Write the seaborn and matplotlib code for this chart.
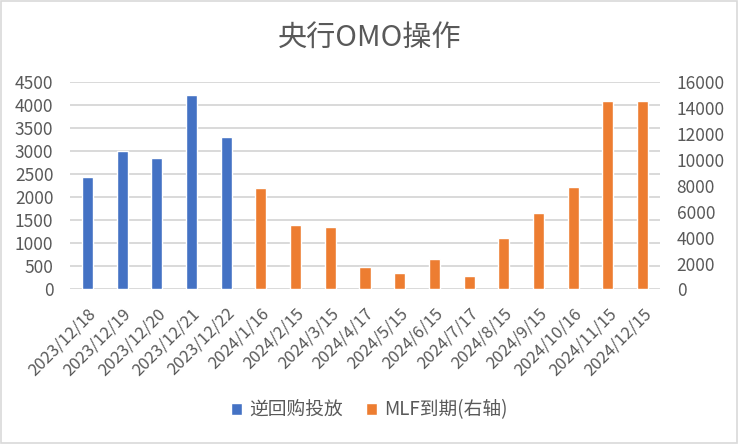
import matplotlib
matplotlib.use("Agg")
import matplotlib.pyplot as plt
import seaborn as sns
import pandas as pd
import numpy as np
from matplotlib.patches import Patch, Rectangle

categories = ["2023/12/18", "2023/12/19", "2023/12/20", "2023/12/21", "2023/12/22",
              "2024/1/16", "2024/2/15", "2024/3/15", "2024/4/17", "2024/5/15",
              "2024/6/15", "2024/7/17", "2024/8/15", "2024/9/15", "2024/10/16",
              "2024/11/15", "2024/12/15"]
repo_dates = categories[:5]
repo_values = [2440, 3000, 2850, 4210, 3300]
mlf_dates = categories[5:]
mlf_values = [7790, 4990, 4810, 1700, 1250, 2370, 1030, 3960, 5910, 7890, 14500, 14500]
left_ticks = [0, 500, 1000, 1500, 2000, 2500, 3000, 3500, 4000, 4500]
right_ticks = [0, 2000, 4000, 6000, 8000, 10000, 12000, 14000, 16000]

sns.set_theme(style="white")
plt.rcParams['font.family'] = ['Noto Sans CJK SC', 'DejaVu Sans']

BLUE = "#4472C4"
ORANGE = "#ED7D31"
GRAY = "#595959"
GRID = "#D9D9D9"

fig = plt.figure(figsize=(7.39, 4.44), dpi=100)
ax = fig.add_axes([70/739, 1-289.5/444, 590/739, 207.5/444])
ax2 = ax.twinx()

df_left = pd.DataFrame({"date": repo_dates, "value": repo_values})
df_right = pd.DataFrame({"date": mlf_dates, "value": mlf_values})

sns.barplot(data=df_left, x="date", y="value", order=categories, color=BLUE,
            width=0.32, ax=ax, saturation=1)
sns.barplot(data=df_right, x="date", y="value", order=categories, color=ORANGE,
            width=0.32, ax=ax2, saturation=1)

n = len(categories)
for a in (ax, ax2):
    a.set_xlim(-0.5, n - 0.5)
    a.set_xlabel("")
    a.set_ylabel("")
    for s in a.spines.values():
        s.set_visible(False)

ax.set_ylim(0, 4500)
ax2.set_ylim(0, 16000)
ax.set_yticks(left_ticks)
ax2.set_yticks(right_ticks)
ax.set_yticklabels([str(v) for v in left_ticks])
ax2.set_yticklabels([str(v) for v in right_ticks])
ax.tick_params(axis="y", length=0, labelsize=12.5, labelcolor=GRAY, pad=12)
ax2.tick_params(axis="y", length=0, labelsize=12.5, labelcolor=GRAY, pad=12)

ax.set_axisbelow(True)
for v in left_ticks[1:]:
    ax.axhline(v, color=GRID, lw=1.4, zorder=0)
ax.axhline(0, color=GRID, lw=1.4, zorder=0)

ax.set_xticks(range(n))
ax.set_xticklabels(categories, rotation=45, ha="right", rotation_mode="anchor",
                   fontsize=12, color=GRAY)
ax.tick_params(axis="x", length=0, pad=11)
ax2.tick_params(axis="x", length=0)
ax.set_xticks(np.arange(-0.5, n, 1), minor=True)
ax.tick_params(axis="x", which="minor", length=5, color=GRID, width=1.4)

fig.suptitle("央行OMO操作", y=1-38/444, va="center", fontsize=21, color=GRAY)

handles = [Patch(facecolor=BLUE, label="逆回购投放"),
           Patch(facecolor=ORANGE, label="MLF到期(右轴)")]
fig.legend(handles=handles, loc="center", bbox_to_anchor=(0.5, 1-410/444), ncol=2,
           frameon=False, fontsize=13.5, labelcolor=GRAY, handlelength=0.6,
           handleheight=0.6, columnspacing=1.2, handletextpad=0.4)

fig.patches.append(Rectangle((0.002, 0.003), 0.995, 0.994, transform=fig.transFigure,
                             fill=False, edgecolor=GRID, lw=1.2))

fig.savefig("out.png", dpi=100)
